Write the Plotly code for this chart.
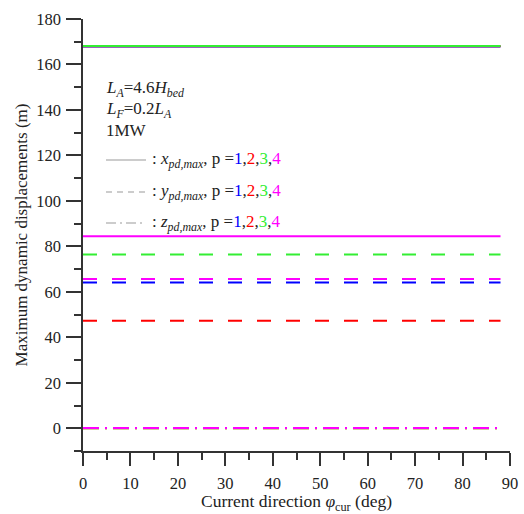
import plotly.graph_objects as go

phi = [0, 88]
p_labels = ["1", "2", "3", "4"]
colors = ["#0000ff", "#ff0000", "#33ee33", "#ff00ff"]
x_pd_max = [167.9, 168.0, 168.15, 84.4]
y_pd_max = [64.1, 47.3, 76.4, 65.7]
z_pd_max = [0.1, 0.0, 0.0, 0.1]

FONT = "Liberation Serif"
fig = go.Figure()
styles = [("solid", x_pd_max, "x"), ("14px,15px", y_pd_max, "y"), ("16px,6px,2px,6px", z_pd_max, "z")]
for dash, vals, name in styles:
    for lab, c, v in zip(p_labels, colors, vals):
        fig.add_trace(go.Scatter(x=phi, y=[v, v], mode="lines",
                                 line=dict(color=c, width=2, dash=dash),
                                 name=f"{name} p={lab}", showlegend=False))

fig.update_layout(
    width=524, height=514,
    margin=dict(l=83, r=14, t=19, b=63),
    plot_bgcolor="white", paper_bgcolor="white",
    font=dict(family=FONT, size=16.5, color="#222"),
    xaxis=dict(range=[0, 90], tickvals=list(range(0, 91, 10)), showgrid=False, zeroline=False,
               showline=True, linecolor="#333", linewidth=1.5, ticks="outside", ticklen=13,
               tickwidth=1.5, tickcolor="#333", ticklabelstandoff=3, automargin=False,
               minor=dict(ticks="outside", ticklen=7, tickwidth=1.5, tickcolor="#333", dtick=5),
               title=dict(text="Current direction <i>φ</i><sub>cur</sub> (deg)", standoff=0,
                          font=dict(size=17.5))),
    yaxis=dict(range=[-10, 180], tickvals=list(range(0, 181, 20)), showgrid=False, zeroline=False,
               showline=True, linecolor="#333", linewidth=1.5, ticks="outside", ticklen=15,
               tickwidth=1.5, tickcolor="#333", automargin=False, ticklabelstandoff=2,
               minor=dict(ticks="outside", ticklen=7, tickwidth=1.5, tickcolor="#333", dtick=10),
               title=dict(text="Maximum dynamic displacements (m)", standoff=4,
                          font=dict(size=17))),
)

def ann(text, x, y):
    fig.add_annotation(text=text, x=x, y=y, xref="paper", yref="paper", xanchor="left",
                       yanchor="middle", showarrow=False, font=dict(family=FONT, size=17, color="#222"))

def py(pix):
    return (451 - pix) / 432

def px(pix):
    return (pix - 83) / 427

ann("<i>L<sub>A</sub></i>=4.6<i>H<sub>bed</sub></i>", px(104), py(89))
ann("<i>L<sub>F</sub></i>=0.2<i>L<sub>A</sub></i>", px(104), py(110))
ann("1MW", px(104), py(130))

pstr = ("p =<span style='color:#0000ff'>1</span>,<span style='color:#ff0000'>2</span>,"
        "<span style='color:#33ee33'>3</span>,<span style='color:#ff00ff'>4</span>")
rows = [("solid", "x", 160), ("6px,5px", "y", 192), ("10px,4px,2px,4px", "z", 223)]
for dash, nm, ypix in rows:
    fig.add_shape(type="line", xref="paper", yref="paper", x0=px(106), x1=px(146),
                  y0=py(ypix), y1=py(ypix), line=dict(color="#999", width=1.2, dash=dash))
    ann(f": <i>{nm}<sub>pd,max</sub></i>, {pstr}", px(150), py(ypix))

fig.write_html("out.html")
